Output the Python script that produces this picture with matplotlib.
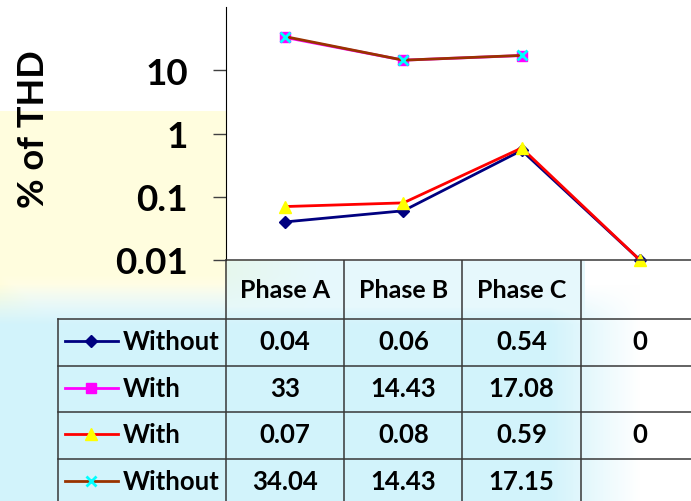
import numpy as np
import matplotlib.pyplot as plt
from matplotlib.ticker import FixedLocator, NullLocator

plt.rcParams['font.family'] = ['Lato', 'DejaVu Sans']
plt.rcParams['font.weight'] = 'bold'

# data
phases = ['Phase A', 'Phase B', 'Phase C', '']
series_names = ['Without', 'With', 'With', 'Without']
without_1 = [0.04, 0.06, 0.54, 0]
with_1 = [33, 14.43, 17.08, None]
with_2 = [0.07, 0.08, 0.59, 0]
without_2 = [34.04, 14.43, 17.15, None]
yticks = [0.01, 0.1, 1, 10]
ytick_labels = ['0.01', '0.1', '1', '10']
ymin, ymax = 0.01, 100

series = [without_1, with_1, with_2, without_2]
styles = [
    dict(color='#000080', marker='D', ms=6.5, mfc='#000080', mec='#000080'),
    dict(color='#FF00FF', marker='s', ms=7.5, mfc='#FF00FF', mec='#FF00FF'),
    dict(color='#FF0000', marker='^', ms=9, mfc='#FFFF00', mec='#FFFF00'),
    dict(color='#993300', marker='x', ms=7, mfc='#00FFFF', mec='#00FFFF', mew=2),
]

W, H = 691, 502
fig = plt.figure(figsize=(W / 100, H / 100), dpi=100)

# slide background
bg = fig.add_axes([0, 0, 1, 1], zorder=0)
yy, xx = np.mgrid[0:H, 0:W].astype(float)
wy = (yy >= 112) * np.clip((320 - yy) / 45, 0, 1) * np.clip((320 - xx) / 90, 0, 1)
wy = np.maximum(wy, (yy >= 112) * np.clip((360 - yy) / 60, 0, 1) * np.clip((60 - xx) / 60, 0, 1))
wc = np.clip((yy - 285) / 40, 0, 1) * np.clip((640 - xx) / 90, 0, 1)
wc = np.maximum(wc, ((xx > 226) & (xx < 585) & (yy > 261)) * 0.55)
img = np.ones((H, W, 3))
yellow = np.array([255, 253, 222]) / 255
cyan = np.array([210, 243, 251]) / 255
img = img * (1 - wy[..., None]) + yellow * wy[..., None]
img = img * (1 - wc[..., None]) + cyan * wc[..., None]
bg.imshow(img, extent=(0, W, H, 0), aspect='auto')
bg.set_xlim(0, W)
bg.set_ylim(H, 0)
bg.axis('off')

# data table
tab = fig.add_axes([0, 0, 1, 1], zorder=1)
tab.set_xlim(0, W)
tab.set_ylim(H, 0)
tab.axis('off')
tab.patch.set_alpha(0)

col_edges = [226, 344.3, 462.5, 580.8, 699]
leg_left = 58
head_top, head_bot = 261, 320
row_h = 46.5
row_edges = [head_bot + i * row_h for i in range(5)]
lc = '#383838'

for y in row_edges[:-1]:
    tab.plot([leg_left, W], [y, y], color=lc, lw=1.1)
tab.plot([leg_left, leg_left], [head_bot, H], color=lc, lw=1.1)
for x in col_edges[:-1]:
    tab.plot([x, x], [head_top, H], color=lc, lw=1.1)

for i, ph in enumerate(phases):
    cx = (col_edges[i] + col_edges[i + 1]) / 2
    tab.text(cx, (head_top + head_bot) / 2, ph, ha='center', va='center',
             fontsize=18, fontweight='bold')

for r, (name, vals, st) in enumerate(zip(series_names, series, styles)):
    cy = (row_edges[r] + row_edges[r + 1]) / 2 - 1
    tab.plot([65, 118], [cy, cy], color=st['color'], lw=2)
    tab.plot([91.5], [cy], linestyle='none', marker=st['marker'], ms=st['ms'],
             mfc=st['mfc'], mec=st['mec'], mew=st.get('mew', 1))
    tab.text(123, cy, name, ha='left', va='center', fontsize=18.5, fontweight='bold')
    for i, v in enumerate(vals):
        if v is None:
            continue
        cx = (col_edges[i] + col_edges[i + 1]) / 2
        tab.text(cx, cy, f'{v:g}', ha='center', va='center',
                 fontsize=18.5, fontweight='bold')

# chart
ax = fig.add_axes([226 / W, (H - 261) / H, 473 / W, 253 / H], zorder=2)
ax.set_facecolor('white')
x = np.arange(len(phases))
for vals, st in zip(series, styles):
    ys = [np.nan if v is None else (v if v > 0 else ymin) for v in vals]
    ax.plot(x, ys, color=st['color'], lw=2, marker=st['marker'], ms=st['ms'],
            mfc=st['mfc'], mec=st['mec'], mew=st.get('mew', 1), clip_on=False)

ax.set_yscale('log')
ax.set_ylim(ymin, ymax)
ax.set_xlim(-0.5, len(phases) - 0.5)
ax.yaxis.set_major_locator(FixedLocator(yticks))
ax.yaxis.set_minor_locator(NullLocator())
ax.set_yticklabels(ytick_labels)
ax.set_xticks([])
ax.tick_params(axis='y', labelsize=26.5, length=9.5, width=1, color='#404040', pad=18)
for lab in ax.get_yticklabels():
    lab.set_fontweight('bold')
for s in ['top', 'right']:
    ax.spines[s].set_visible(False)
ax.spines['left'].set_color('black')
ax.spines['bottom'].set_color(lc)
ax.spines['bottom'].set_linewidth(1.1)
ax.set_ylabel('% of THD', fontsize=26, fontweight='bold')
ax.yaxis.set_label_coords(-0.372, 0.52)

fig.savefig('out.png', dpi=100)
